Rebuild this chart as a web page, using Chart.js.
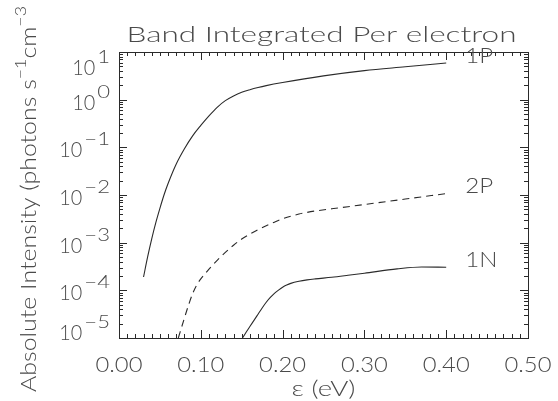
<!DOCTYPE html>
<html><head><meta charset="utf-8">
<script src="https://cdn.jsdelivr.net/npm/chart.js@4"></script>
<style>html,body{margin:0;padding:0;background:#fff}#wrap{width:558px;height:401px}</style>
</head><body><div id="wrap"><canvas id="c" width="558" height="401"></canvas></div>
<script>
// ---- text ----
const titleText = 'Band Integrated Per electron';
const xAxisTitle = 'ε (eV)';
const yAxisTitleParts = [['Absolute Intensity (photons s', 0], ['−1', 1], ['cm', 0], ['−3', 1]];
// ---- ticks ----
const xTickValues = [0.0, 0.1, 0.2, 0.3, 0.4, 0.5];
const xTickLabels = ['0.00', '0.10', '0.20', '0.30', '0.40', '0.50'];
const yTickExponents = [1, 0, -1, -2, -3, -4, -5];
// ---- series ----
const seriesNames = ['1P', '2P', '1N'];
const x1P = [0.03, 0.035, 0.04, 0.045, 0.05, 0.055, 0.06, 0.07, 0.08, 0.09, 0.10, 0.11, 0.12, 0.13, 0.14, 0.15, 0.16, 0.17, 0.18, 0.20, 0.25, 0.30, 0.35, 0.40];
const y1P = [1.905e-4, 5.01e-4, 1.20e-3, 2.63e-3, 5.25e-3, 1.0e-2, 1.74e-2, 4.47e-2, 9.33e-2, 0.174, 0.288, 0.457, 0.692, 0.955, 1.20, 1.43, 1.62, 1.80, 1.97, 2.29, 3.16, 4.07, 4.90, 5.89];
const x2P = [0.0725, 0.08, 0.085, 0.09, 0.095, 0.10, 0.105, 0.11, 0.12, 0.13, 0.14, 0.15, 0.16, 0.17, 0.18, 0.19, 0.20, 0.21, 0.22, 0.23, 0.24, 0.26, 0.28, 0.30, 0.35, 0.40];
const y2P = [1.0e-5, 2.63e-5, 4.90e-5, 8.51e-5, 1.29e-4, 1.74e-4, 2.21e-4, 2.79e-4, 4.27e-4, 6.24e-4, 8.81e-4, 1.19e-3, 1.51e-3, 1.88e-3, 2.26e-3, 2.69e-3, 3.16e-3, 3.59e-3, 3.98e-3, 4.32e-3, 4.62e-3, 5.13e-3, 5.69e-3, 6.31e-3, 8.22e-3, 1.07e-2];
const x1N = [0.151, 0.155, 0.16, 0.165, 0.17, 0.175, 0.18, 0.185, 0.19, 0.195, 0.20, 0.205, 0.21, 0.22, 0.23, 0.24, 0.26, 0.28, 0.30, 0.34, 0.37, 0.40];
const y1N = [1.0e-5, 1.29e-5, 1.74e-5, 2.34e-5, 3.16e-5, 4.27e-5, 5.62e-5, 7.08e-5, 8.61e-5, 1.01e-4, 1.16e-4, 1.29e-4, 1.40e-4, 1.55e-4, 1.66e-4, 1.74e-4, 1.88e-4, 2.07e-4, 2.29e-4, 2.82e-4, 3.09e-4, 3.05e-4];

const toPts = (xs, ys) => xs.map((v, i) => ({ x: v, y: ys[i] }));
const INK = '#2a2a2a';
const TXT = '#4a4a4a';
const FONT = 'Lato, Roboto, "DejaVu Sans", sans-serif';
const WEIGHT = 300;

function txt(ctx, s, x, y, size, opts) {
  opts = opts || {};
  ctx.save();
  ctx.font = WEIGHT + ' ' + size + 'px ' + FONT;
  ctx.fillStyle = TXT;
  ctx.textBaseline = opts.baseline || 'alphabetic';
  const w = ctx.measureText(s).width;
  const sx = opts.width ? opts.width / w : (opts.sx || 1);
  const dw = w * sx;
  let x0 = x;
  if (opts.align === 'center') x0 = x - dw / 2;
  else if (opts.align === 'right') x0 = x - dw;
  ctx.translate(x0, y);
  ctx.scale(sx, 1);
  ctx.textAlign = 'left';
  ctx.fillText(s, 0, 0);
  ctx.restore();
  return dw;
}

const idlPlugin = {
  id: 'idl',
  afterDatasetsDraw(chart) {
    const ctx = chart.ctx;
    const xs = chart.scales.x, ys = chart.scales.y;
    const a = chart.chartArea;
    ctx.save();
    ctx.strokeStyle = INK;
    ctx.lineWidth = 1;
    ctx.strokeRect(Math.round(a.left) + 0.5, Math.round(a.top) + 0.5,
      Math.round(a.right - a.left), Math.round(a.bottom - a.top));
    ctx.beginPath();
    for (let i = 0; i <= 50; i++) {
      const v = i / 100;
      const px = Math.round(xs.getPixelForValue(v)) + 0.5;
      const L = (i % 10 === 0) ? 8 : 4;
      ctx.moveTo(px, a.bottom); ctx.lineTo(px, a.bottom - L);
      ctx.moveTo(px, a.top); ctx.lineTo(px, a.top + L);
    }
    for (let e = -5; e <= 1; e++) {
      for (let m = 1; m <= 9; m++) {
        const v = m * Math.pow(10, e);
        if (v > 10 * 1.0001) continue;
        const py = Math.round(ys.getPixelForValue(v)) + 0.5;
        const L = (m === 1) ? 8 : 4;
        ctx.moveTo(a.left, py); ctx.lineTo(a.left + L, py);
        ctx.moveTo(a.right, py); ctx.lineTo(a.right - L, py);
      }
    }
    ctx.stroke();
    ctx.restore();

    xTickValues.forEach((v, i) => {
      txt(ctx, xTickLabels[i], xs.getPixelForValue(v), 372, 21, { align: 'center', width: 47 });
    });
    yTickExponents.forEach(e => {
      const py = ys.getPixelForValue(Math.pow(10, e));
      const expS = e < 0 ? '−' + (-e) : String(e);
      ctx.save();
      ctx.font = WEIGHT + ' 17px ' + FONT;
      const ew = ctx.measureText(expS).width * 1.3;
      ctx.restore();
      const right = 110;
      let base = py + 10;
      if (base > a.bottom + 2) base = a.bottom + 2;
      if (base - 25 < a.top - 2) base = a.top + 23;
      txt(ctx, expS, right, base - 12, 17, { align: 'right', sx: 1.3 });
      txt(ctx, '10', right - ew - 2, base, 21, { align: 'right', width: 23 });
    });
    txt(ctx, titleText, (a.left + a.right) / 2 - 2, 42, 21, { align: 'center', width: 390 });
    txt(ctx, xAxisTitle, (a.left + a.right) / 2, 396, 21, { align: 'center', width: 64 });
    ctx.save();
    ctx.translate(36, 392);
    ctx.rotate(-Math.PI / 2);
    let total = 0;
    yAxisTitleParts.forEach(p => {
      ctx.font = WEIGHT + ' ' + (p[1] ? 15 : 21) + 'px ' + FONT;
      total += ctx.measureText(p[0]).width;
    });
    const sx = 386 / total;
    let cx = 0;
    yAxisTitleParts.forEach(p => {
      const size = p[1] ? 15 : 21;
      cx += txt(ctx, p[0], cx, p[1] ? -10 : 0, size, { sx: sx });
    });
    ctx.restore();
    chart.data.datasets.forEach((ds, i) => {
      const last = ds.data[ds.data.length - 1];
      const px = xs.getPixelForValue(last.x), py = ys.getPixelForValue(last.y);
      txt(ctx, seriesNames[i], px + 19, py - 7, 21, { baseline: 'middle', sx: 1.15 });
    });
  }
};

new Chart(document.getElementById('c'), {
  type: 'line',
  data: {
    datasets: [
      { label: seriesNames[0], data: toPts(x1P, y1P), borderColor: INK, borderWidth: 1.1 },
      { label: seriesNames[1], data: toPts(x2P, y2P), borderColor: INK, borderWidth: 1.1, borderDash: [7, 5] },
      { label: seriesNames[2], data: toPts(x1N, y1N), borderColor: INK, borderWidth: 1.1 }
    ]
  },
  options: {
    responsive: false,
    animation: false,
    devicePixelRatio: 1,
    layout: { padding: { left: 119, right: 30, top: 52, bottom: 63 } },
    elements: { point: { radius: 0 }, line: { cubicInterpolationMode: 'monotone', fill: false } },
    scales: {
      x: { type: 'linear', min: 0, max: 0.5, display: false },
      y: { type: 'logarithmic', min: 1e-5, max: 10, display: false }
    },
    plugins: { legend: { display: false }, tooltip: { enabled: false }, title: { display: false } }
  },
  plugins: [idlPlugin]
});
</script>
</body></html>
